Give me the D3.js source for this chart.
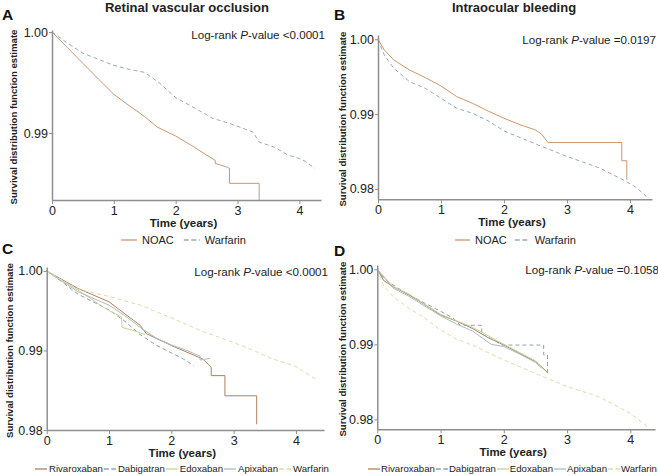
<!DOCTYPE html>
<html>
<head>
<meta charset="utf-8">
<script src="https://cdn.jsdelivr.net/npm/d3@7"></script>
<style>
  body { margin: 0; background: #fff; }
  text { font-family: "Liberation Sans", Arial, sans-serif; }
</style>
</head>
<body>
<svg id="chart" width="658" height="476"></svg>
<script>
// ---- data: [time in years, survival estimate] ----
var timeTicks = [0, 1, 2, 3, 4];

// A: retinal vascular occlusion, NOAC vs warfarin
var rvoNoac = [[0,1],[0.25,0.99845],[0.5,0.9969],[0.75,0.99535],[1,0.99383],[1.25,0.9927],[1.5,0.99162],[1.7,0.9906],
  [2,0.9897],[2.25,0.9888],[2.5,0.98782],[2.64,0.9873],[2.64,0.9870],[2.84,0.9866],[2.87,0.9865],[2.87,0.98502],
  [3.35,0.98502],[3.35,0.98337]];
var rvoWarfarin = [[0,1],[0.25,0.9989],[0.5,0.9979],[0.75,0.9973],[1,0.9967],[1.25,0.9963],[1.5,0.9960],[1.75,0.9949],
  [2,0.9935],[2.3,0.9925],[2.6,0.99145],[2.9,0.9909],[3.25,0.9901],[3.35,0.9891],[3.6,0.9886],[3.82,0.9878],
  [3.95,0.9876],[4.1,0.9872],[4.25,0.9865]];

// B: intraocular bleeding, NOAC vs warfarin
var iobNoac = [[0,1],[0.1,0.99858],[0.25,0.99724],[0.5,0.9959],[0.75,0.99488],[1,0.99376],[1.25,0.99234],[1.5,0.99145],
  [1.75,0.9904],[2,0.98945],[2.25,0.9886],[2.5,0.98788],[2.6,0.9873],[2.7,0.9862],[3.87,0.9862],[3.87,0.98377],
  [3.95,0.98377],[3.95,0.98124]];
var iobWarfarin = [[0,1],[0.1,0.9979],[0.25,0.99612],[0.5,0.99434],[0.75,0.99345],[1,0.99212],[1.25,0.99078],[1.5,0.99011],
  [1.75,0.9891],[2,0.98775],[2.47,0.98613],[3,0.98435],[3.52,0.9828],[3.94,0.98101],[4.1,0.9802],[4.26,0.97901]];

// C: retinal vascular occlusion by drug
var rvoRivaroxaban = [[0,1],[0.5,0.99781],[1,0.99612],[1.25,0.99464],[1.5,0.99316],[1.6,0.99211],[2,0.99063],
  [2.25,0.98979],[2.5,0.98895],[2.64,0.98789],[2.64,0.98684],[2.86,0.98684],[2.86,0.9843],[3.37,0.9843],[3.37,0.98072]];
var rvoDabigatran = [[0,1],[0.25,0.9986],[0.5,0.9971],[0.75,0.9961],[1,0.9951],[1.25,0.9937],[1.5,0.9920],[1.75,0.9907],
  [2,0.9897],[2.2,0.9889],[2.36,0.9881]];
var rvoEdoxaban = [[0,1],[0.5,0.9976],[0.94,0.9953],[1.2,0.9942],[1.21,0.9929],[1.4,0.9925],[1.58,0.9920]];
var rvoApixaban = [[0,1],[0.5,0.9974],[1,0.9957],[1.25,0.9944],[1.5,0.9929],[1.75,0.9916],[2,0.9907],[2.25,0.9900],
  [2.46,0.9893],[2.46,0.9888],[2.62,0.9890]];
var rvoWarfarin2 = [[0,1],[0.25,0.9988],[0.5,0.9977],[1,0.9968],[1.5,0.9957],[2,0.9941],[2.46,0.99253],[3,0.9910],
  [3.32,0.9900],[3.6,0.9890],[4,0.9880],[4.27,0.98662],[4.35,0.9863]];

// D: intraocular bleeding by drug
var iobRivaroxaban = [[0,1],[0.1,0.9985],[0.25,0.99769],[0.5,0.99658],[0.75,0.9953],[1,0.99391],[1.25,0.9931],
  [1.5,0.99213],[1.75,0.9909],[2,0.98991],[2.25,0.9888],[2.5,0.98769],[2.6,0.9870],[2.7,0.98613]];
var iobDabigatran = [[0,1],[0.1,0.9988],[0.25,0.9979],[0.5,0.9966],[0.75,0.9955],[1,0.9944],[1.2,0.9935],[1.31,0.99253],
  [1.65,0.99253],[1.65,0.9914],[1.85,0.9905],[1.97,0.9899],[2.63,0.9899],[2.63,0.9886],[2.69,0.9886],[2.69,0.9862]];
var iobEdoxaban = [[0,1],[0.25,0.9977],[0.5,0.9967],[1,0.9940],[1.5,0.9923],[2,0.9900],[2.5,0.9878],[2.65,0.9865]];
var iobApixaban = [[0,1],[0.25,0.9975],[0.5,0.9964],[1,0.9938],[1.25,0.9927],[1.5,0.9918],[1.8,0.9900],[2,0.9897],
  [2.25,0.9887],[2.5,0.9876],[2.6,0.9868]];
var iobWarfarin2 = [[0,1],[0.1,0.9978],[0.25,0.99636],[0.5,0.9948],[0.75,0.9935],[1,0.99191],[1.25,0.9907],[1.5,0.98991],
  [2,0.98791],[2.5,0.98613],[3,0.98436],[3.5,0.98302],[4,0.9808],[4.27,0.97902]];

var twoGroups = ["NOAC", "Warfarin"];
var drugs = ["Rivaroxaban", "Dabigatran", "Edoxaban", "Apixaban", "Warfarin"];

// ---- styles ----
var colNoac = "#cc9670", colWarf = "#9aabb4";
var drugCol = { Rivaroxaban: "#b47e58", Dabigatran: "#8ea2b0", Edoxaban: "#c6d39a", Apixaban: "#a9bcc6", Warfarin: "#e4d9a8" };
var drugDash = { Rivaroxaban: null, Dabigatran: "4,3", Edoxaban: null, Apixaban: null, Warfarin: "4,3" };

var svg = d3.select("#chart");

function drawPanel(p) {
  var x = d3.scaleLinear().domain([0, p.xMax]).range([p.left, p.right]);
  var y = d3.scaleLinear().domain([p.yMin, p.yMax]).range([p.bottom, p.top]);
  var g = svg.append("g");

  var line = d3.line()
    .x(function (d) { return x(d[0]); })
    .y(function (d) { return y(d[1]); });

  p.series.forEach(function (s) {
    g.append("path")
      .attr("d", line(s.data))
      .attr("fill", "none")
      .attr("stroke", s.color)
      .attr("stroke-width", 1)
      .attr("stroke-dasharray", s.dash);
  });

  var xAxis = g.append("g")
    .attr("transform", "translate(0," + p.bottom + ")")
    .call(d3.axisBottom(x).tickValues(timeTicks).tickFormat(d3.format("d"))
      .tickSize(4).tickPadding(2).tickSizeOuter(0));
  var yAxis = g.append("g")
    .attr("transform", "translate(" + p.left + ",0)")
    .call(d3.axisLeft(y).tickValues(p.yTicks).tickFormat(d3.format(".2f")).tickSize(3).tickPadding(1).tickSizeOuter(0));

  [xAxis, yAxis].forEach(function (a) {
    a.select(".domain").attr("stroke", "#8f8f8f").attr("stroke-width", 1.5);
    a.selectAll(".tick line").attr("stroke", "#8f8f8f");
    a.selectAll(".tick text").attr("fill", "#222").style("font-size", "12.5px")
      .style("font-family", "'Liberation Sans', Arial, sans-serif");
  });

  // axis titles
  g.append("text")
    .attr("x", (p.left + p.right) / 2 - 3).attr("y", p.bottom + 27)
    .attr("text-anchor", "middle").style("font-size", "11.5px").style("font-weight", "bold")
    .attr("fill", "#222").text("Time (years)");
  g.append("text")
    .attr("transform", "translate(" + p.ylabX + "," + ((p.top + p.bottom) / 2 + 2) + ") rotate(-90)")
    .attr("text-anchor", "middle").attr("dy", "0.35em")
    .style("font-size", "9.6px").style("font-weight", "bold")
    .attr("fill", "#222").text("Survival distribution function estimate");

  // log-rank text
  var lr = g.append("text")
    .attr("x", p.right + 4).attr("y", p.top + 9)
    .attr("text-anchor", "end").style("font-size", "11.6px").attr("fill", "#222");
  lr.append("tspan").text("Log-rank ");
  lr.append("tspan").style("font-style", "italic").text("P");
  lr.append("tspan").text("-value " + p.pText);

  // panel letter
  g.append("text").attr("x", p.letterX).attr("y", p.letterY)
    .style("font-size", "15.5px").style("font-weight", "bold").attr("fill", "#111").text(p.letter);

  if (p.title) {
    g.append("text").attr("x", p.titleX).attr("y", 12)
      .attr("text-anchor", "middle").style("font-size", "13px").style("font-weight", "bold")
      .attr("fill", "#222").text(p.title);
  }

  // legend
  var lx = p.legX;
  var lg = g.append("g");
  p.legend.forEach(function (item) {
    lg.append("line")
      .attr("x1", lx).attr("x2", lx + p.legLine)
      .attr("y1", p.legY).attr("y2", p.legY)
      .attr("stroke", item.color).attr("stroke-width", 1.3)
      .attr("stroke-dasharray", item.dash ? "5,2.5" : null);
    lx += p.legLine + p.legPad;
    var t = lg.append("text").attr("x", lx).attr("y", p.legY).attr("dy", "0.35em")
      .style("font-size", p.legFont + "px").attr("fill", "#222").text(item.name);
    lx += t.node().getComputedTextLength() + p.legGap;
  });
}

function drugSeries(arrs) {
  return drugs.map(function (name, i) {
    return { data: arrs[i], color: drugCol[name], dash: drugDash[name] };
  });
}
function drugLegend() {
  return drugs.map(function (name) {
    return { name: name, color: drugCol[name], dash: drugDash[name] };
  });
}
var pairLegend = [
  { name: twoGroups[0], color: colNoac, dash: null },
  { name: twoGroups[1], color: colWarf, dash: "4,3" }
];

drawPanel({
  letter: "A", letterX: 2, letterY: 20, title: "Retinal vascular occlusion", titleX: 187,
  left: 52, right: 321, top: 30, bottom: 200, xMax: 4.35, yMin: 0.98337, yMax: 1.0002, yTicks: [1.00, 0.99],
  ylabX: 14, pText: "<0.0001",
  series: [{ data: rvoNoac, color: colNoac, dash: null }, { data: rvoWarfarin, color: colWarf, dash: "4,3" }],
  legend: pairLegend, legX: 121, legY: 240, legLine: 16, legPad: 5, legGap: 10, legFont: 11
});
drawPanel({
  letter: "B", letterX: 334, letterY: 20, title: "Intraocular bleeding", titleX: 514,
  left: 378, right: 652, top: 35, bottom: 199.3, xMax: 4.35, yMin: 0.97862, yMax: 1.00057, yTicks: [1.00, 0.99, 0.98],
  ylabX: 343, pText: "=0.0197",
  series: [{ data: iobNoac, color: colNoac, dash: null }, { data: iobWarfarin, color: colWarf, dash: "4,3" }],
  legend: pairLegend, legX: 455, legY: 240, legLine: 15, legPad: 5, legGap: 8, legFont: 11
});
drawPanel({
  letter: "C", letterX: 2, letterY: 254,
  left: 46.7, right: 324, top: 267, bottom: 430, xMax: 4.45, yMin: 0.98, yMax: 1.0005, yTicks: [1.00, 0.99, 0.98],
  ylabX: 10, pText: "<0.0001",
  series: drugSeries([rvoRivaroxaban, rvoDabigatran, rvoEdoxaban, rvoApixaban, rvoWarfarin2]),
  legend: drugLegend(), legX: 35, legY: 469, legLine: 12, legPad: 2, legGap: 1, legFont: 9.6
});
drawPanel({
  letter: "D", letterX: 334, letterY: 256,
  left: 377.3, right: 655, top: 265, bottom: 429.3, xMax: 4.39, yMin: 0.97867, yMax: 1.00057, yTicks: [1.00, 0.99, 0.98],
  ylabX: 343, pText: "=0.1058",
  series: drugSeries([iobRivaroxaban, iobDabigatran, iobEdoxaban, iobApixaban, iobWarfarin2]),
  legend: drugLegend(), legX: 368, legY: 469, legLine: 12, legPad: 1, legGap: 1, legFont: 9.6
});
</script>
</body>
</html>
